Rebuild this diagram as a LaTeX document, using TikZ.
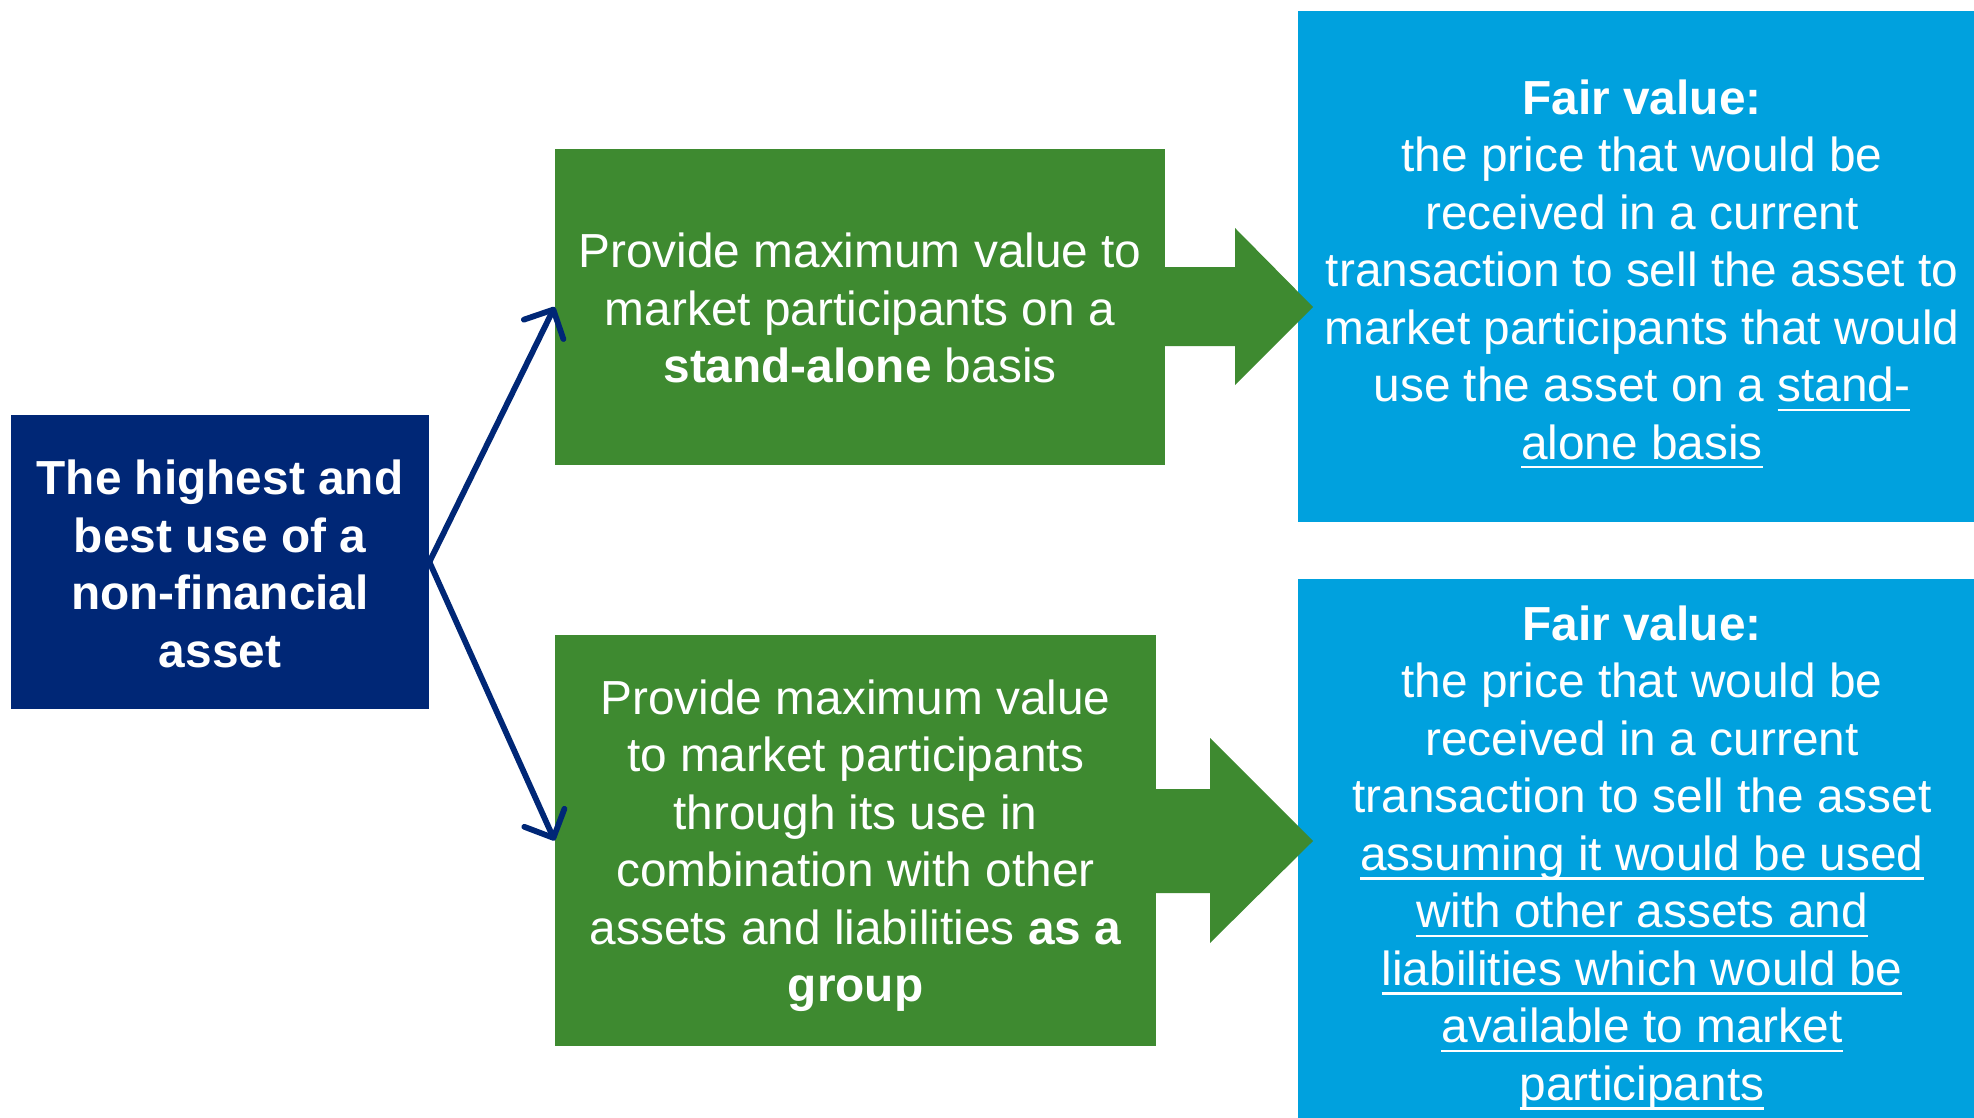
\documentclass[tikz,border=0pt]{standalone}
\usepackage{fontspec}
\setmainfont{Liberation Sans}
\usetikzlibrary{arrows.meta,calc}
\definecolor{navy}{RGB}{0,39,118}
\definecolor{grn}{RGB}{62,138,48}
\definecolor{sky}{RGB}{0,161,222}
\newcommand\fvul[1]{\setbox0\hbox{#1}\rlap{\rule[-4.6pt]{\wd0}{1.1pt}}\box0}
\begin{document}
\begin{tikzpicture}[x=0.5pt,y=-0.5pt,
  boxtxt/.style={inner sep=0pt,text=white,align=center,
    font=\fontsize{23.9pt}{28.75pt}\selectfont},
  navybox/.style={inner sep=0pt,fill=navy},
  grnbox/.style={inner sep=0pt,fill=grn},
  skybox/.style={inner sep=0pt,fill=sky},
  blockarrow/.style={fill=grn},
  linkarrow/.style={draw=navy,line width=2.9pt,line cap=round,
    -{Straight Barb[length=11pt,width=22pt,round]}}]
\useasboundingbox (0,0) rectangle (1974,1118);

\node[navybox,minimum width=209pt,minimum height=147pt] (hbu) at (220,562) {};
\node[boxtxt] (hbut) at ($(hbu.center)+(0,2)$)
  {\bfseries The highest and\\\bfseries best use of a\\\bfseries non-financial\\\bfseries asset};

\node[grnbox,minimum width=305pt,minimum height=158pt] (g1) at (860,307) {};
\node[boxtxt] (g1t) at ($(g1.center)+(0,1)$)
  {Provide maximum value to\\market participants on a\\\textbf{stand-alone} basis};

\node[grnbox,minimum width=300.5pt,minimum height=205.5pt] (g2) at (855.5,840.5) {};
\node[boxtxt] (g2t) at ($(g2.center)+(0,5)$)
  {Provide maximum value\\to market participants\\through its use in\\combination with other\\assets and liabilities \textbf{as a}\\\textbf{group}};

\node[skybox,minimum width=338pt,minimum height=255.5pt] (b1) at (1636,266.5) {};
\node[boxtxt] (b1t) at ($(b1.center)+(6,7.5)$)
  {\textbf{Fair value:}\\the price that would be\\received in a current\\transaction to sell the asset to\\market participants that would\\use the asset on a \fvul{stand-}\\\fvul{alone basis}};

\node[skybox,minimum width=338pt,minimum height=275pt] (b2) at (1636,854) {};
\node[boxtxt] (b2t) at ($(b2.center)+(6,4)$)
  {\textbf{Fair value:}\\the price that would be\\received in a current\\transaction to sell the asset\\\fvul{assuming it would be used}\\\fvul{with other assets and}\\\fvul{liabilities which would be}\\\fvul{available to market}\\\fvul{participants}};

\fill[blockarrow] (1160,267) -- (1235,267) -- (1235,228) -- (1313,307)
  -- (1235,385) -- (1235,346) -- (1160,346) -- cycle;
\fill[blockarrow] (1150,789) -- (1210,789) -- (1210,738) -- (1313,841)
  -- (1210,943) -- (1210,893) -- (1150,893) -- cycle;

\draw[linkarrow] (hbu.east) -- (g1.west);
\draw[linkarrow] (hbu.east) -- (g2.west);
\end{tikzpicture}
\end{document}
